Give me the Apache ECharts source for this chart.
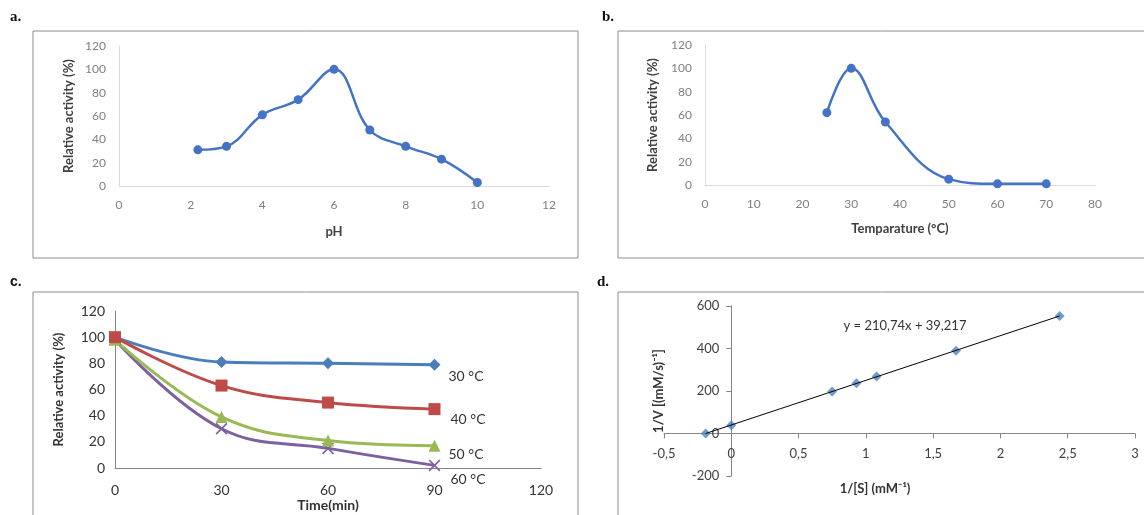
<!DOCTYPE html>
<html>
<head>
<meta charset="utf-8">
<script src="https://cdn.jsdelivr.net/npm/echarts@6/dist/echarts.min.js"></script>
<style>
  html, body { margin: 0; padding: 0; background: #fff; }
  #chart { width: 1144px; height: 515px; }
</style>
</head>
<body>
<div id="chart"></div>
<script>
// a. pH profile
const phValues = [2.2, 3, 4, 5, 6, 7, 8, 9, 10];
const phActivity = [31, 34, 61, 74, 100, 48, 34, 23, 3];

// b. temperature profile
const tempValues = [25, 30, 37, 50, 60, 70];
const tempActivity = [62, 100, 54, 5, 1, 1];

// c. thermal stability over time
const timeMin = [0, 30, 60, 90];
const stabilityNames = ['30 °C', '40 °C', '50 °C', '60 °C'];
const stab30 = [100, 81, 80, 79];
const stab40 = [100, 63, 50, 45];
const stab50 = [98, 39, 21, 17];
const stab60 = [98, 30, 15, 2];

// d. Lineweaver-Burk plot
const invS = [-0.19, 0, 0.75, 0.93, 1.08, 1.67, 2.44];
const invV = [0, 39, 198, 236, 268, 390, 553];
const trendX = [-0.19, 2.44];
const trendY = [0, 553];
const equationText = 'y = 210,74x + 39,217';
const lbXTitle = '1/[S] (mM⁻¹)';
const lbYTitle = '1/V [(mM/s)⁻¹]';

const panelLabels = ['a.', 'b.', 'c.', 'd.'];

const FONT = 'Lato';
const zip = (xs, ys) => xs.map((x, i) => [x, ys[i]]);
const crossPath = 'path://M0,1 L1,0 L5,4 L9,0 L10,1 L6,5 L10,9 L9,10 L5,6 L1,10 L0,9 L4,5 Z';

const chart = echarts.init(document.getElementById('chart'));

// light axes used by panels a and b
function lightAxis(min, max, interval, name, gap, vertical) {
  return {
    type: 'value', min, max, interval,
    name, nameLocation: 'middle', nameGap: gap, nameRotate: vertical ? 90 : 0,
    nameTextStyle: { fontFamily: FONT, fontWeight: 'bold', fontSize: 13, color: '#404040' },
    axisLine: { show: true, lineStyle: { color: '#d9d9d9', width: 1 } },
    axisTick: { show: false },
    splitLine: { show: false },
    axisLabel: { fontFamily: FONT, fontSize: 12, color: '#7f7f7f', margin: 13 }
  };
}

function stabLabel(dx, dy) {
  return { show: true, formatter: p => p.seriesName, offset: [dx, dy], fontFamily: FONT, fontSize: 14, color: '#333' };
}

const frameStyle = { fill: 'none', stroke: '#8c8c8c', lineWidth: 1 };
const titleFont = 'bold 13px Lato';

// panel d: axes cross at zero, so shift each whole axis (line, ticks, labels) onto the zero line
const gridD = { left: 664, top: 306, width: 471, height: 170 };
const dX = { min: -0.5, max: 3 };
const dY = { min: -200, max: 600 };
const dXOffset = -gridD.height * (0 - dY.min) / (dY.max - dY.min);
const dYOffset = -gridD.width * (0 - dX.min) / (dX.max - dX.min);

const option = {
  backgroundColor: '#fff',
  animation: false,
  grid: [
    { left: 119, top: 46, width: 430, height: 140 },
    { left: 705, top: 45, width: 390, height: 140 },
    { left: 115, top: 311, width: 426, height: 157 },
    gridD
  ],
  xAxis: [
    Object.assign(lightAxis(0, 12, 2, 'pH', 39, false), { gridIndex: 0 }),
    Object.assign(lightAxis(0, 80, 10, 'Temparature (°C)', 37, false), { gridIndex: 1 }),
    {
      gridIndex: 2, type: 'value', min: 0, max: 120, interval: 30,
      name: 'Time(min)', nameLocation: 'middle', nameGap: 30,
      nameTextStyle: { fontFamily: FONT, fontWeight: 'bold', fontSize: 14, color: '#333' },
      axisLine: { lineStyle: { color: '#868686' } },
      axisTick: { show: false }, splitLine: { show: false },
      axisLabel: { fontFamily: FONT, fontSize: 14, color: '#333', margin: 15 }
    },
    {
      gridIndex: 3, type: 'value', min: dX.min, max: dX.max, interval: 0.5,
      offset: dXOffset,
      axisLine: { onZero: false, lineStyle: { color: '#868686' } },
      axisTick: { show: true, length: 5, lineStyle: { color: '#868686' } },
      splitLine: { show: false },
      axisLabel: {
        fontFamily: FONT, fontSize: 13, color: '#404040', margin: 14,
        formatter: v => String(v).replace('.', ',')
      }
    }
  ],
  yAxis: [
    Object.assign(lightAxis(0, 120, 20, 'Relative activity (%)', 44, true), { gridIndex: 0 }),
    Object.assign(lightAxis(0, 120, 20, 'Relative activity (%)', 46, true), { gridIndex: 1 }),
    {
      gridIndex: 2, type: 'value', min: 0, max: 120, interval: 20,
      name: 'Relative activity (%)', nameLocation: 'middle', nameGap: 50, nameRotate: 90,
      nameTextStyle: { fontFamily: FONT, fontWeight: 'bold', fontSize: 13, color: '#333' },
      axisLine: { show: true, lineStyle: { color: '#868686' } },
      axisTick: { show: false }, splitLine: { show: false },
      axisLabel: { fontFamily: FONT, fontSize: 14, color: '#333', margin: 10 }
    },
    {
      gridIndex: 3, type: 'value', min: dY.min, max: dY.max, interval: 200,
      offset: dYOffset,
      axisLine: { show: true, onZero: false, lineStyle: { color: '#868686' } },
      axisTick: { show: true, length: 5, lineStyle: { color: '#868686' } },
      splitLine: { show: false },
      axisLabel: { fontFamily: FONT, fontSize: 13, color: '#404040', margin: 12 }
    }
  ],
  series: [
    {
      type: 'line', xAxisIndex: 0, yAxisIndex: 0, data: zip(phValues, phActivity),
      smooth: 0.4, symbol: 'circle', symbolSize: 9,
      lineStyle: { color: '#4472c4', width: 2.5 }, itemStyle: { color: '#4472c4' }
    },
    {
      type: 'line', xAxisIndex: 1, yAxisIndex: 1, data: zip(tempValues, tempActivity),
      smooth: 0.4, symbol: 'circle', symbolSize: 9,
      lineStyle: { color: '#4472c4', width: 2.5 }, itemStyle: { color: '#4472c4' }
    },
    {
      name: stabilityNames[0], type: 'line', xAxisIndex: 2, yAxisIndex: 2, data: zip(timeMin, stab30),
      smooth: 0.4, symbol: 'diamond', symbolSize: 12,
      lineStyle: { color: '#4a7ebb', width: 3 }, itemStyle: { color: '#4a7ebb' },
      endLabel: stabLabel(6, 12)
    },
    {
      name: stabilityNames[3], type: 'line', xAxisIndex: 2, yAxisIndex: 2, data: zip(timeMin, stab60),
      smooth: 0.4, symbol: crossPath, symbolSize: 12,
      lineStyle: { color: '#7d60a0', width: 3 }, itemStyle: { color: '#7d60a0' },
      endLabel: stabLabel(8, 14)
    },
    {
      name: stabilityNames[2], type: 'line', xAxisIndex: 2, yAxisIndex: 2, data: zip(timeMin, stab50),
      smooth: 0.4, symbol: 'triangle', symbolSize: 12,
      lineStyle: { color: '#98b954', width: 3 }, itemStyle: { color: '#98b954' },
      endLabel: stabLabel(6, 9)
    },
    {
      name: stabilityNames[1], type: 'line', xAxisIndex: 2, yAxisIndex: 2, data: zip(timeMin, stab40),
      smooth: 0.4, symbol: 'rect', symbolSize: 12,
      lineStyle: { color: '#be4b48', width: 3 }, itemStyle: { color: '#be4b48' },
      endLabel: stabLabel(8, 10)
    },
    {
      type: 'line', xAxisIndex: 3, yAxisIndex: 3, data: zip(trendX, trendY),
      symbol: 'none', lineStyle: { color: '#000', width: 1 }, z: 3
    },
    {
      type: 'scatter', xAxisIndex: 3, yAxisIndex: 3, data: zip(invS, invV),
      symbol: 'diamond', symbolSize: 10, itemStyle: { color: '#4f81bd' }, z: 2
    }
  ],
  graphic: [
    { type: 'rect', shape: { x: 33, y: 31, width: 545, height: 227 }, style: frameStyle, z: -1 },
    { type: 'rect', shape: { x: 618, y: 31, width: 540, height: 227 }, style: frameStyle, z: -1 },
    { type: 'rect', shape: { x: 33, y: 292, width: 545, height: 240 }, style: frameStyle, z: -1 },
    { type: 'rect', shape: { x: 618, y: 292, width: 540, height: 240 }, style: frameStyle, z: -1 },
    { type: 'text', left: 10, top: 10, style: { text: panelLabels[0], font: 'bold 15px "Liberation Serif"', fill: '#111' } },
    { type: 'text', left: 602, top: 10, style: { text: panelLabels[1], font: 'bold 15px "Liberation Serif"', fill: '#111' } },
    { type: 'text', left: 10, top: 275, style: { text: panelLabels[2], font: 'bold 14px "Liberation Sans"', fill: '#111' } },
    { type: 'text', left: 597, top: 275, style: { text: panelLabels[3], font: 'bold 15px "Liberation Serif"', fill: '#111' } },
    { type: 'text', x: 905, y: 326, style: { text: equationText, font: '13px Lato', fill: '#333', align: 'center', verticalAlign: 'middle' } },
    { type: 'text', x: 875, y: 489, style: { text: lbXTitle, font: titleFont, fill: '#333', align: 'center', verticalAlign: 'middle' } },
    { type: 'text', x: 659, y: 391, rotation: Math.PI / 2, style: { text: lbYTitle, font: titleFont, fill: '#333', align: 'center', verticalAlign: 'middle' } }
  ]
};

chart.setOption(option);
window.addEventListener('resize', () => chart.resize());
</script>
</body>
</html>
